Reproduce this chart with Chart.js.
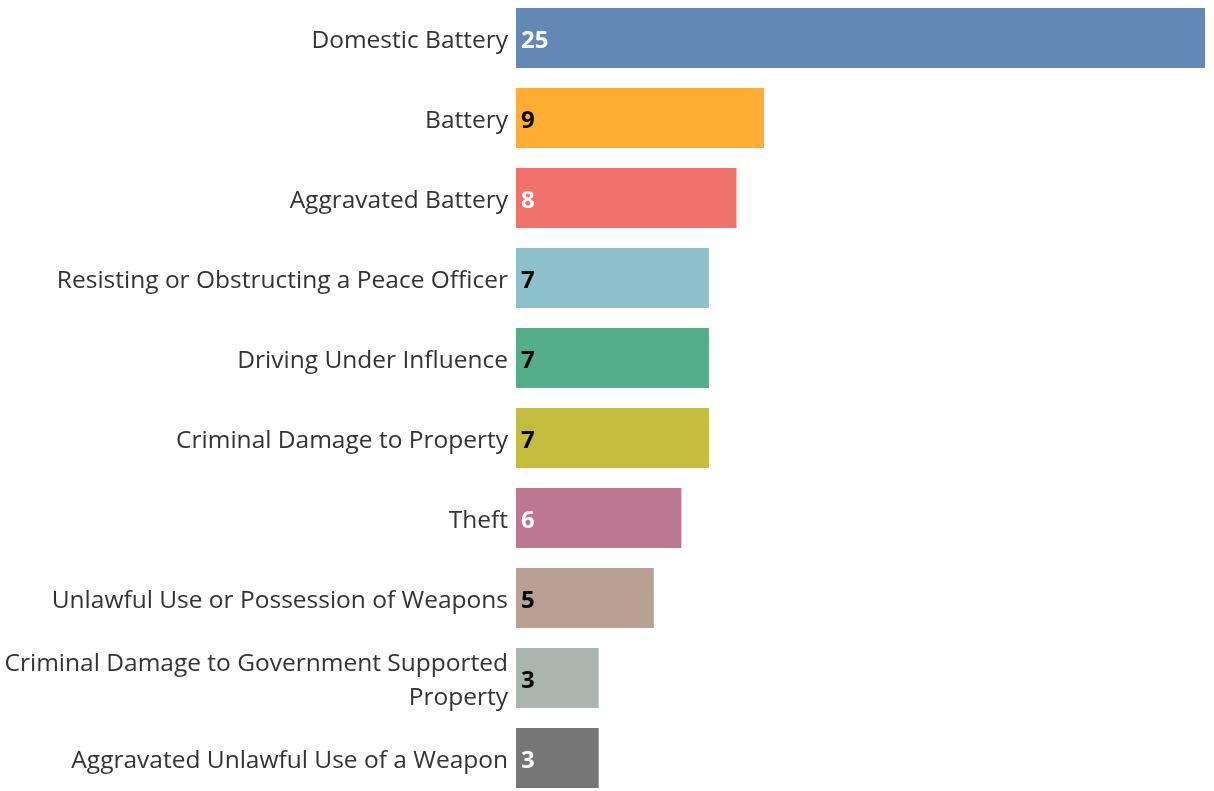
<!DOCTYPE html>
<html>
<head>
<meta charset="utf-8">
<script src="https://cdn.jsdelivr.net/npm/chart.js@4"></script>
<style>
  html, body { margin: 0; padding: 0; background: #fff; overflow: hidden; }
  #wrap { position: relative; width: 1214px; height: 800px; margin-top: -2px; }
</style>
</head>
<body>
<div id="wrap"><canvas id="crimes"></canvas></div>
<script>
const categories = [
  'Domestic Battery',
  'Battery',
  'Aggravated Battery',
  'Resisting or Obstructing a Peace Officer',
  'Driving Under Influence',
  'Criminal Damage to Property',
  'Theft',
  'Unlawful Use or Possession of Weapons',
  ['Criminal Damage to Government Supported', 'Property'],
  'Aggravated Unlawful Use of a Weapon'
];
const counts = [25, 9, 8, 7, 7, 7, 6, 5, 3, 3];
const barColors = ['#6289b5', '#ffad33', '#ef716a', '#8dc2ca', '#55ae8b',
                   '#c4bc3f', '#bc768f', '#b9a095', '#a9b5ae', '#767676'];
const labelColors = ['#fff', '#000', '#fff', '#000', '#000',
                     '#000', '#fff', '#000', '#000', '#fff'];

// value text drawn just inside the start of each bar
const barValues = {
  id: 'barValues',
  afterDatasetsDraw(chart) {
    const c = chart.ctx;
    const meta = chart.getDatasetMeta(0);
    c.save();
    c.font = 'bold 24px "Open Sans"';
    c.textBaseline = 'middle';
    c.textAlign = 'left';
    meta.data.forEach((bar, i) => {
      c.fillStyle = labelColors[i];
      c.fillText(String(counts[i]), bar.base + 5, bar.y + 3);
    });
    c.restore();
  }
};

const ctx = document.getElementById('crimes');

new Chart(ctx, {
  type: 'bar',
  data: {
    labels: categories,
    datasets: [
      {
        data: counts,
        backgroundColor: barColors,
        borderWidth: 0,
        barPercentage: 0.75,
        categoryPercentage: 1
      }
    ]
  },
  options: {
    indexAxis: 'y',
    responsive: true,
    maintainAspectRatio: false,
    animation: false,
    layout: { padding: { right: 9, top: 0, bottom: 0, left: 0 } },
    plugins: {
      legend: { display: false },
      tooltip: { enabled: false }
    },
    scales: {
      x: {
        display: false,
        min: 0,
        max: 25
      },
      y: {
        grid: { display: false, drawTicks: false },
        border: { display: false },
        ticks: {
          color: '#333',
          padding: 8,
          labelOffset: 3,
          font: { family: 'Open Sans', size: 24.5, lineHeight: 1.35 }
        },
        afterFit(scale) {
          scale.width = 516;
          scale.paddingTop = 0;
          scale.paddingBottom = 0;
        }
      }
    }
  },
  plugins: [barValues]
});
</script>
</body>
</html>
